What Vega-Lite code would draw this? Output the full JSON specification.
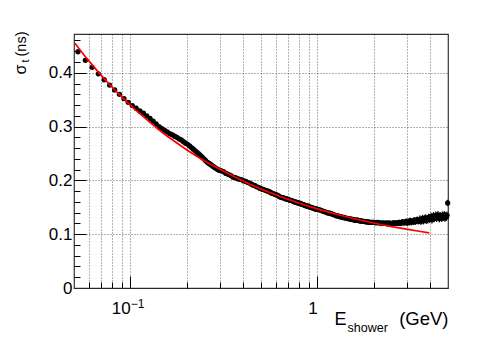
{
"$schema": "https://vega.github.io/schema/vega-lite/v6.json",
"width": 374, "height": 254,
"autosize": {"type": "none"},
"padding": {"left": 74, "top": 34, "right": 50, "bottom": 51},
"background": "white",
"config": {"view": {"stroke": "#333", "strokeWidth": 1.2}, "font": "Liberation Sans",
  "axis": {"labelFont": "Liberation Sans", "titleFont": "Liberation Sans", "labelColor": "black", "titleColor": "black", "titleFontWeight": "normal", "tickColor": "black"}},
"datasets": {
"pts": [
{"E":0.0525,"s":0.439,"e":0.003},{"E":0.0575,"s":0.423,"e":0.003},{"E":0.0625,"s":0.410,"e":0.003},{"E":0.0675,"s":0.398,"e":0.003},{"E":0.0725,"s":0.387,"e":0.003},
{"E":0.0775,"s":0.377,"e":0.003},{"E":0.0825,"s":0.368,"e":0.003},{"E":0.0875,"s":0.360,"e":0.003},{"E":0.0925,"s":0.352,"e":0.003},{"E":0.0975,"s":0.345,"e":0.003},
{"E":0.1025,"s":0.339,"e":0.003},{"E":0.1075,"s":0.334,"e":0.003},{"E":0.1125,"s":0.329,"e":0.003},{"E":0.1175,"s":0.325,"e":0.003},{"E":0.1225,"s":0.320,"e":0.003},
{"E":0.1275,"s":0.315,"e":0.003},{"E":0.1325,"s":0.310,"e":0.003},{"E":0.1375,"s":0.305,"e":0.003},{"E":0.1425,"s":0.300,"e":0.003},{"E":0.1475,"s":0.296,"e":0.003},
{"E":0.1525,"s":0.293,"e":0.003},{"E":0.1575,"s":0.290,"e":0.003},{"E":0.1625,"s":0.287,"e":0.003},{"E":0.1675,"s":0.285,"e":0.003},{"E":0.1725,"s":0.282,"e":0.003},
{"E":0.1775,"s":0.280,"e":0.003},{"E":0.1825,"s":0.277,"e":0.003},{"E":0.1875,"s":0.275,"e":0.003},{"E":0.1925,"s":0.272,"e":0.003},{"E":0.1975,"s":0.269,"e":0.003},
{"E":0.2025,"s":0.267,"e":0.003},{"E":0.2075,"s":0.264,"e":0.003},{"E":0.2125,"s":0.261,"e":0.003},{"E":0.2175,"s":0.258,"e":0.003},{"E":0.2225,"s":0.255,"e":0.003},
{"E":0.2275,"s":0.252,"e":0.003},{"E":0.2325,"s":0.249,"e":0.003},{"E":0.2375,"s":0.246,"e":0.003},{"E":0.2425,"s":0.243,"e":0.003},{"E":0.2475,"s":0.240,"e":0.003},
{"E":0.2525,"s":0.237,"e":0.003},{"E":0.2575,"s":0.234,"e":0.003},{"E":0.2625,"s":0.232,"e":0.003},{"E":0.2675,"s":0.230,"e":0.003},{"E":0.2725,"s":0.228,"e":0.003},
{"E":0.2775,"s":0.226,"e":0.003},{"E":0.2825,"s":0.224,"e":0.003},{"E":0.2875,"s":0.222,"e":0.003},{"E":0.2925,"s":0.221,"e":0.003},{"E":0.2975,"s":0.219,"e":0.003},
{"E":0.305,"s":0.218,"e":0.0035},{"E":0.315,"s":0.216,"e":0.0035},{"E":0.325,"s":0.213,"e":0.0035},{"E":0.335,"s":0.211,"e":0.0035},{"E":0.345,"s":0.209,"e":0.0035},
{"E":0.355,"s":0.206,"e":0.0035},{"E":0.365,"s":0.205,"e":0.0035},{"E":0.375,"s":0.203,"e":0.0035},{"E":0.385,"s":0.202,"e":0.0035},{"E":0.395,"s":0.201,"e":0.0035},
{"E":0.405,"s":0.199,"e":0.0035},{"E":0.415,"s":0.198,"e":0.0035},{"E":0.425,"s":0.196,"e":0.0035},{"E":0.435,"s":0.195,"e":0.0035},{"E":0.445,"s":0.193,"e":0.0035},
{"E":0.455,"s":0.191,"e":0.0035},{"E":0.465,"s":0.190,"e":0.0035},{"E":0.475,"s":0.188,"e":0.0035},{"E":0.485,"s":0.187,"e":0.0035},{"E":0.495,"s":0.185,"e":0.0035},
{"E":0.505,"s":0.184,"e":0.0035},{"E":0.515,"s":0.183,"e":0.0035},{"E":0.525,"s":0.182,"e":0.0035},{"E":0.535,"s":0.181,"e":0.0035},{"E":0.545,"s":0.180,"e":0.0035},
{"E":0.555,"s":0.179,"e":0.0035},{"E":0.565,"s":0.177,"e":0.0035},{"E":0.575,"s":0.176,"e":0.0035},{"E":0.585,"s":0.175,"e":0.0035},{"E":0.595,"s":0.174,"e":0.0035},
{"E":0.605,"s":0.173,"e":0.0035},{"E":0.615,"s":0.172,"e":0.0035},{"E":0.625,"s":0.170,"e":0.0035},{"E":0.635,"s":0.169,"e":0.0035},{"E":0.645,"s":0.168,"e":0.0035},
{"E":0.655,"s":0.168,"e":0.0035},{"E":0.665,"s":0.167,"e":0.0035},{"E":0.675,"s":0.166,"e":0.0035},{"E":0.685,"s":0.165,"e":0.0035},{"E":0.695,"s":0.165,"e":0.0035},
{"E":0.705,"s":0.164,"e":0.0035},{"E":0.715,"s":0.163,"e":0.0035},{"E":0.725,"s":0.163,"e":0.0035},{"E":0.735,"s":0.162,"e":0.0035},{"E":0.745,"s":0.161,"e":0.0035},
{"E":0.755,"s":0.160,"e":0.0035},{"E":0.765,"s":0.160,"e":0.0035},{"E":0.775,"s":0.159,"e":0.0035},{"E":0.785,"s":0.158,"e":0.0035},{"E":0.795,"s":0.158,"e":0.0035},
{"E":0.805,"s":0.157,"e":0.0035},{"E":0.815,"s":0.157,"e":0.0035},{"E":0.825,"s":0.156,"e":0.0035},{"E":0.835,"s":0.155,"e":0.0035},{"E":0.845,"s":0.155,"e":0.0035},
{"E":0.855,"s":0.154,"e":0.0035},{"E":0.865,"s":0.153,"e":0.0035},{"E":0.875,"s":0.153,"e":0.0035},{"E":0.885,"s":0.152,"e":0.0035},{"E":0.895,"s":0.152,"e":0.0035},
{"E":0.905,"s":0.151,"e":0.0035},{"E":0.915,"s":0.150,"e":0.0035},{"E":0.925,"s":0.150,"e":0.0035},{"E":0.935,"s":0.149,"e":0.0035},{"E":0.945,"s":0.149,"e":0.0035},
{"E":0.955,"s":0.148,"e":0.0035},{"E":0.965,"s":0.148,"e":0.0035},{"E":0.975,"s":0.147,"e":0.0035},{"E":0.985,"s":0.147,"e":0.0035},{"E":0.995,"s":0.146,"e":0.0035},
{"E":1.01,"s":0.146,"e":0.0035},{"E":1.03,"s":0.145,"e":0.0035},{"E":1.05,"s":0.144,"e":0.0035},{"E":1.07,"s":0.143,"e":0.0035},{"E":1.09,"s":0.142,"e":0.0035},
{"E":1.11,"s":0.141,"e":0.0035},{"E":1.13,"s":0.140,"e":0.0035},{"E":1.15,"s":0.139,"e":0.0035},{"E":1.17,"s":0.139,"e":0.0035},{"E":1.19,"s":0.138,"e":0.0035},
{"E":1.21,"s":0.137,"e":0.0035},{"E":1.23,"s":0.136,"e":0.0035},{"E":1.25,"s":0.135,"e":0.0035},{"E":1.27,"s":0.134,"e":0.0035},{"E":1.29,"s":0.134,"e":0.0035},
{"E":1.31,"s":0.133,"e":0.0035},{"E":1.33,"s":0.132,"e":0.0035},{"E":1.35,"s":0.132,"e":0.0035},{"E":1.37,"s":0.131,"e":0.0035},{"E":1.39,"s":0.131,"e":0.0035},
{"E":1.41,"s":0.130,"e":0.0035},{"E":1.43,"s":0.130,"e":0.0035},{"E":1.45,"s":0.129,"e":0.0035},{"E":1.47,"s":0.129,"e":0.0035},{"E":1.49,"s":0.128,"e":0.0035},
{"E":1.51,"s":0.128,"e":0.0035},{"E":1.53,"s":0.128,"e":0.0035},{"E":1.55,"s":0.127,"e":0.0035},{"E":1.57,"s":0.127,"e":0.0035},{"E":1.59,"s":0.126,"e":0.0035},
{"E":1.61,"s":0.126,"e":0.0035},{"E":1.63,"s":0.126,"e":0.0035},{"E":1.65,"s":0.126,"e":0.0035},{"E":1.67,"s":0.125,"e":0.0035},{"E":1.69,"s":0.125,"e":0.0035},
{"E":1.71,"s":0.125,"e":0.0035},{"E":1.73,"s":0.124,"e":0.0035},{"E":1.75,"s":0.124,"e":0.0035},{"E":1.77,"s":0.124,"e":0.0035},{"E":1.79,"s":0.124,"e":0.0035},
{"E":1.81,"s":0.123,"e":0.0035},{"E":1.83,"s":0.123,"e":0.0035},{"E":1.85,"s":0.123,"e":0.0035},{"E":1.87,"s":0.123,"e":0.0035},{"E":1.89,"s":0.122,"e":0.0035},
{"E":1.91,"s":0.122,"e":0.0035},{"E":1.93,"s":0.122,"e":0.0035},{"E":1.95,"s":0.122,"e":0.0035},{"E":1.97,"s":0.122,"e":0.0035},{"E":1.99,"s":0.122,"e":0.0035},
{"E":2.02,"s":0.122,"e":0.004},{"E":2.06,"s":0.121,"e":0.004},{"E":2.10,"s":0.122,"e":0.004},{"E":2.14,"s":0.121,"e":0.004},{"E":2.18,"s":0.121,"e":0.004},
{"E":2.22,"s":0.120,"e":0.004},{"E":2.26,"s":0.121,"e":0.004},{"E":2.30,"s":0.120,"e":0.004},{"E":2.34,"s":0.121,"e":0.004},{"E":2.38,"s":0.119,"e":0.004},
{"E":2.42,"s":0.121,"e":0.004},{"E":2.46,"s":0.120,"e":0.004},{"E":2.50,"s":0.119,"e":0.004},{"E":2.54,"s":0.121,"e":0.005},{"E":2.58,"s":0.120,"e":0.005},
{"E":2.62,"s":0.121,"e":0.005},{"E":2.66,"s":0.120,"e":0.005},{"E":2.70,"s":0.121,"e":0.005},{"E":2.74,"s":0.122,"e":0.005},{"E":2.78,"s":0.120,"e":0.005},
{"E":2.82,"s":0.122,"e":0.005},{"E":2.86,"s":0.123,"e":0.005},{"E":2.90,"s":0.121,"e":0.005},{"E":2.94,"s":0.122,"e":0.005},{"E":2.98,"s":0.124,"e":0.005},
{"E":3.02,"s":0.121,"e":0.006},{"E":3.06,"s":0.123,"e":0.006},{"E":3.10,"s":0.122,"e":0.006},{"E":3.14,"s":0.125,"e":0.006},{"E":3.18,"s":0.122,"e":0.006},
{"E":3.22,"s":0.124,"e":0.006},{"E":3.26,"s":0.123,"e":0.006},{"E":3.30,"s":0.126,"e":0.006},{"E":3.34,"s":0.123,"e":0.006},{"E":3.38,"s":0.125,"e":0.006},
{"E":3.42,"s":0.127,"e":0.006},{"E":3.46,"s":0.124,"e":0.006},{"E":3.50,"s":0.126,"e":0.006},{"E":3.54,"s":0.128,"e":0.007},{"E":3.58,"s":0.124,"e":0.007},
{"E":3.62,"s":0.127,"e":0.007},{"E":3.66,"s":0.129,"e":0.007},{"E":3.70,"s":0.125,"e":0.007},{"E":3.74,"s":0.128,"e":0.007},{"E":3.78,"s":0.130,"e":0.007},
{"E":3.82,"s":0.126,"e":0.007},{"E":3.86,"s":0.129,"e":0.007},{"E":3.90,"s":0.127,"e":0.007},{"E":3.94,"s":0.131,"e":0.007},{"E":3.98,"s":0.128,"e":0.007},
{"E":4.02,"s":0.130,"e":0.007},{"E":4.06,"s":0.133,"e":0.007},{"E":4.10,"s":0.127,"e":0.007},{"E":4.14,"s":0.131,"e":0.007},{"E":4.18,"s":0.134,"e":0.007},
{"E":4.22,"s":0.129,"e":0.007},{"E":4.26,"s":0.132,"e":0.007},{"E":4.30,"s":0.135,"e":0.007},{"E":4.34,"s":0.130,"e":0.007},{"E":4.38,"s":0.133,"e":0.007},
{"E":4.42,"s":0.136,"e":0.007},{"E":4.46,"s":0.131,"e":0.007},{"E":4.50,"s":0.129,"e":0.007},{"E":4.54,"s":0.134,"e":0.007},{"E":4.58,"s":0.132,"e":0.007},
{"E":4.62,"s":0.130,"e":0.007},{"E":4.66,"s":0.135,"e":0.007},{"E":4.70,"s":0.131,"e":0.007},{"E":4.74,"s":0.133,"e":0.007},{"E":4.78,"s":0.136,"e":0.007},
{"E":4.82,"s":0.130,"e":0.007},{"E":4.86,"s":0.134,"e":0.007},{"E":4.90,"s":0.132,"e":0.007},{"E":4.94,"s":0.135,"e":0.007},{"E":4.98,"s":0.158,"e":0.006}
],
"fit": [
{"E":0.0506,"s":0.455},{"E":0.06,"s":0.422},{"E":0.07,"s":0.395},{"E":0.08,"s":0.373},{"E":0.09,"s":0.355},{"E":0.1,"s":0.340},
{"E":0.12,"s":0.3155},{"E":0.14,"s":0.296},{"E":0.17,"s":0.274},{"E":0.2,"s":0.257},{"E":0.25,"s":0.236},{"E":0.3,"s":0.221},
{"E":0.4,"s":0.199},{"E":0.5,"s":0.184},{"E":0.65,"s":0.1685},{"E":0.8,"s":0.1575},{"E":1.0,"s":0.147},{"E":1.25,"s":0.1376},
{"E":1.6,"s":0.1283},{"E":2.0,"s":0.1208},{"E":2.5,"s":0.1142},{"E":3.0,"s":0.1093},{"E":3.5,"s":0.1054},{"E":3.97,"s":0.1025}
]
},
"resolve": {"axis": {"x": "independent", "y": "independent"}},
"layer": [
{
 "data": {"name": "pts"},
 "mark": {"type": "errorbar", "color": "black", "thickness": 1.2},
 "encoding": {
  "x": {"field": "E", "type": "quantitative", "scale": {"type": "log", "domain": [0.05, 5], "nice": false},
   "axis": {"orient": "bottom", "values": [0.06,0.07,0.08,0.09,0.1,0.2,0.3,0.4,0.5,0.6,0.7,0.8,0.9,1,2,3,4],
    "grid": true, "gridColor": "#000", "gridOpacity": 0.6, "gridDash": [1,2], "ticks": false, "domain": false,
    "labelExpr": "datum.value == 0.1 ? '10' : (datum.value == 1 ? '1' : '')", "labelAlign": "right", "labelDx": 3,
    "labelBaseline": "alphabetic", "labelPadding": 25, "labelFontSize": 17, "labelFlush": false, "labelOverlap": false,
    "title": "E", "titleFontSize": 18, "titleAlign": "left", "titleBaseline": "alphabetic", "titleX": 260, "titleY": 36}},
  "y": {"field": "s", "type": "quantitative", "scale": {"domain": [0, 0.472], "nice": false, "zero": false},
   "axis": {"orient": "left", "values": [0,0.1,0.2,0.3,0.4], "format": "~g",
    "grid": true, "gridColor": "#000", "gridOpacity": 0.6, "gridDash": [1,2], "ticks": false, "domain": false,
    "labelFontSize": 17, "labelPadding": 2, "labelOverlap": false,
    "title": "σ", "titleFontSize": 16, "titleAngle": -90, "titleAlign": "right", "titleBaseline": "alphabetic", "titleX": -49, "titleY": 30}},
  "yError": {"field": "e"}
 }
},
{
 "data": {"name": "pts"},
 "mark": {"type": "circle", "size": 28, "color": "black", "opacity": 1},
 "encoding": {
  "x": {"field": "E", "type": "quantitative",
   "axis": {"orient": "bottom", "values": [0.1], "grid": false, "ticks": false, "domain": false,
    "labelExpr": "'−1'", "labelAlign": "left", "labelDx": 3, "labelBaseline": "alphabetic", "labelPadding": 19, "labelFontSize": 12, "labelFlush": false,
    "title": "shower", "titleFontSize": 12.5, "titleAlign": "left", "titleBaseline": "alphabetic", "titleX": 273, "titleY": 43}},
  "y": {"field": "s", "type": "quantitative",
   "axis": {"orient": "left", "values": [0.02,0.04,0.06,0.08,0.12,0.14,0.16,0.18,0.22,0.24,0.26,0.28,0.32,0.34,0.36,0.38,0.42,0.44,0.46],
    "grid": false, "labels": false, "domain": false, "ticks": true, "tickSize": -6,
    "title": "t", "titleFontSize": 11, "titleAngle": -90, "titleAlign": "right", "titleBaseline": "alphabetic", "titleX": -46, "titleY": 25}}
 }
},
{
 "data": {"name": "fit"},
 "mark": {"type": "line", "color": "#ff0000", "strokeWidth": 1.7, "interpolate": "monotone"},
 "encoding": {
  "x": {"field": "E", "type": "quantitative",
   "axis": {"orient": "bottom", "values": [0.06,0.07,0.08,0.09,0.1,0.2,0.3,0.4,0.5,0.6,0.7,0.8,0.9,1,2,3,4],
    "grid": false, "labels": false, "domain": false, "ticks": true,
    "tickSize": {"condition": {"test": "datum.value == 0.1 || datum.value == 1", "value": -12}, "value": -6},
    "title": "(GeV)", "titleFontSize": 18.5, "titleAlign": "right", "titleBaseline": "alphabetic", "titleX": 374, "titleY": 36}},
  "y": {"field": "s", "type": "quantitative",
   "axis": {"orient": "left", "values": [0.1,0.2,0.3,0.4], "grid": false, "labels": false, "domain": false, "ticks": true, "tickSize": -12,
    "title": "(ns)", "titleFontSize": 14.5, "titleAngle": -90, "titleAlign": "right", "titleBaseline": "alphabetic", "titleX": -49, "titleY": -3}}
 }
}
]
}
